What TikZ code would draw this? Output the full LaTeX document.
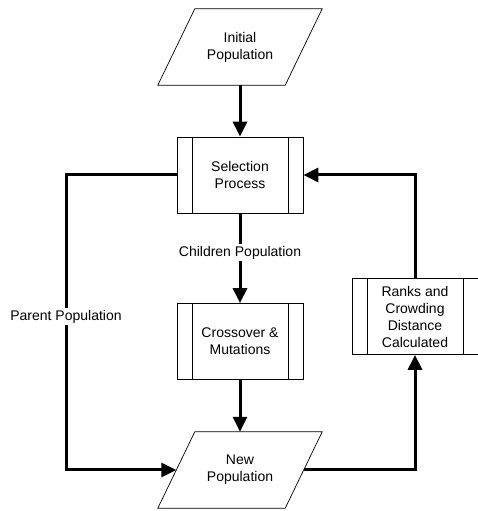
\documentclass[tikz,border=0pt]{standalone}
\usepackage{fontspec}
\setmainfont{Liberation Sans}
\usetikzlibrary{arrows.meta,calc}

\tikzset{
  every node/.style={font=\fontsize{14}{17}\selectfont, align=center},
  proc/.style={draw, line width=0.7pt, minimum width=126, minimum height=76},
  io/.style={minimum width=127, minimum height=76},
  flow/.style={line width=3pt, -{Triangle[length=15pt,width=14pt]}},
  lbl/.style={fill=white, inner sep=2pt}
}

\begin{document}
\begin{tikzpicture}[x=1pt,y=1pt]
  \useasboundingbox (0,0) rectangle (477,511);

  % Blocks
  \node[io] (init) at (240,464) {Initial\\Population};
  \node[proc] (sel) at (240,336) {Selection\\Process};
  \node[proc] (cross) at (240,169.5) {Crossover \&\\Mutations};
  \node[io] (newpop) at (240,41) {New\\Population};
  \node[proc] (rank) at (415,194.5) {Ranks and\\Crowding\\Distance\\Calculated};

  % Parallelogram outlines
  \foreach \n in {init,newpop} {
    \draw[line width=0.7pt] ($(\n.north west)+(18.5,0)$) -- ($(\n.north east)+(18.5,0)$)
      -- ($(\n.south east)+(-18.5,0)$) -- ($(\n.south west)+(-18.5,0)$) -- cycle;
  }

  % Side bars of the process boxes
  \foreach \n in {sel,cross,rank} {
    \draw[line width=0.7pt] ([xshift=15.5]\n.north west) -- ([xshift=15.5]\n.south west);
    \draw[line width=0.7pt] ([xshift=-15.5]\n.north east) -- ([xshift=-15.5]\n.south east);
  }

  % Main flow
  \draw[flow] (init.south) -- (sel.north);
  \draw[flow] (sel.south) -- node[lbl, pos=0.44] (childlbl) {Children Population} (cross.north);
  \draw[flow] (cross.south) -- (newpop.north);

  % Loop back
  \draw[flow] (newpop.east) -| (rank.south);
  \draw[flow] (rank.north) |- (sel.east);

  % Parent population
  \coordinate (pbend) at (66,41);
  \draw[flow] (sel.west) -| (pbend) node[lbl, pos=0.74] (parentlbl) {Parent Population} -- (newpop.west);
\end{tikzpicture}
\end{document}
